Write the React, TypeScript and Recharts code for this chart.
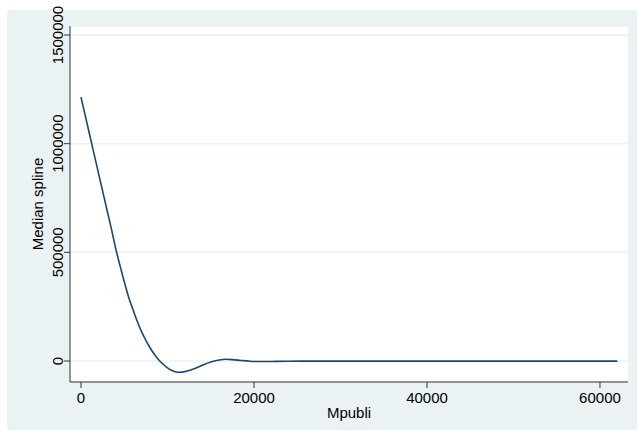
import React from "react";
import { LineChart, Line, XAxis, YAxis, CartesianGrid } from "recharts";

// Mpubli values (x) and median spline estimate (y)
const mpubli = [
  0, 1000, 2000, 3000, 3500, 4000, 4500, 5000, 5500, 6000, 6500, 7000, 7500, 8000, 8500, 9000, 9500,
  10000, 10500, 11000, 11500, 12000, 13000, 14000, 15000, 16000, 16700, 17500, 18500, 19500, 20500,
  21500, 22500, 24000, 27000, 32000, 38000, 44000, 50000, 56000, 62000,
];
const medianSpline = [
  1214000, 1041000, 868000, 696000, 610000, 520000, 440000, 365000, 295000, 238000, 183000, 135000,
  95000, 60000, 30000, 5000, -15000, -32000, -44000, -50500, -51500, -49000, -37000, -20000, -5000,
  5000, 8000, 6500, 2500, -1000, -2500, -2500, -1500, -800, -500, -500, -500, -500, -500, -500, -500,
];
const xTicks = [0, 20000, 40000, 60000];
const yTicks = [0, 500000, 1000000, 1500000];

const chartData = mpubli.map((x, i) => ({ x, y: medianSpline[i] }));

const FONT = "'Liberation Sans', Arial, sans-serif";
const BG = "#eaf2f3";
const LINE = "#1a476f";

function XTick(props: any) {
  const { x, y, payload } = props;
  return (
    <text x={x} y={y} dy="0.71em" textAnchor="middle" fontSize={15} fontFamily={FONT} fill="#000">
      {payload.value}
    </text>
  );
}

function YTick(props: any) {
  const { x, y, payload } = props;
  const bx = x + 1;
  return (
    <text
      x={bx}
      y={y}
      transform={`rotate(-90, ${bx}, ${y})`}
      textAnchor="middle"
      fontSize={15}
      fontFamily={FONT}
      fill="#000"
    >
      {payload.value}
    </text>
  );
}

export default function App() {
  return (
    <div style={{ position: "absolute", left: 0, top: 0, width: 637, height: 434, background: "#fff" }}>
      <div style={{ position: "absolute", left: 7, top: 10, width: 630, height: 420, background: BG }} />
      <div style={{ position: "absolute", left: 0, top: 0 }}>
        <LineChart width={637} height={434} data={chartData} margin={{ top: 26, right: 9, bottom: 22, left: 10 }}>
          <CartesianGrid vertical={false} stroke={BG} strokeWidth={1.5} fill="#fff" fillOpacity={1} />
          <XAxis
            type="number"
            dataKey="x"
            domain={[-1272, 63240]}
            ticks={xTicks}
            allowDataOverflow
            height={30}
            tickSize={6}
            tickMargin={4}
            stroke="#333"
            tick={<XTick />}
            label={{
              content: (p: any) => {
                const vb = p.viewBox;
                return (
                  <text x={vb.x + vb.width / 2} y={vb.y + 36} textAnchor="middle" fontSize={15} fontFamily={FONT} fill="#000">
                    Mpubli
                  </text>
                );
              },
            }}
          />
          <YAxis
            type="number"
            domain={[-96600, 1541400]}
            ticks={yTicks}
            allowDataOverflow
            width={60}
            tickSize={6}
            tickMargin={2}
            stroke="#333"
            tick={<YTick />}
            label={{
              content: (p: any) => {
                const vb = p.viewBox;
                const lx = vb.x + 33;
                const ly = vb.y + vb.height / 2;
                return (
                  <text
                    x={lx}
                    y={ly}
                    transform={`rotate(-90, ${lx}, ${ly})`}
                    textAnchor="middle"
                    fontSize={15}
                    fontFamily={FONT}
                    fill="#000"
                  >
                    Median spline
                  </text>
                );
              },
            }}
          />
          <Line
            type="monotone"
            dataKey="y"
            stroke={LINE}
            strokeWidth={1.6}
            dot={false}
            isAnimationActive={false}
          />
        </LineChart>
      </div>
    </div>
  );
}
